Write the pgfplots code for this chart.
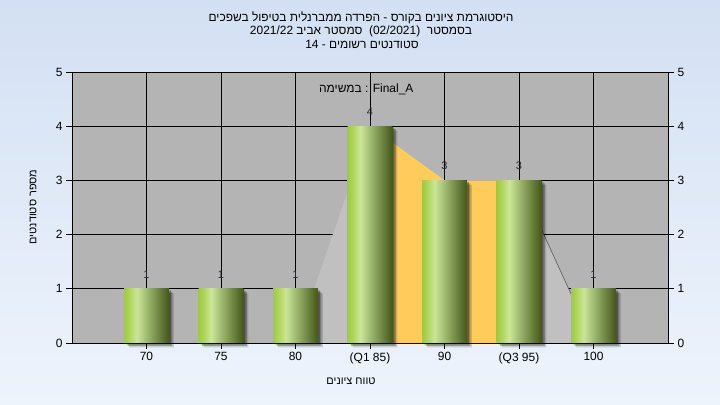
\documentclass[border=0pt]{standalone}
\usepackage{fontspec}
\setmainfont{Liberation Sans}
\newfontfamily\hebfont[Script=Hebrew]{Liberation Sans}
\TeXXeTstate=1
\usepackage{pgfplots}
\pgfplotsset{compat=1.18}
\definecolor{bgtop}{HTML}{D3E0F3}
\definecolor{bgbot}{HTML}{EEF4FC}
\definecolor{plotgray}{HTML}{B4B4B4}
\definecolor{areagray}{HTML}{C0C0C0}
\definecolor{areaorange}{HTML}{FFCC5C}
\definecolor{barL}{HTML}{9FCB3E}
\definecolor{barM}{HTML}{CBE698}
\definecolor{barD}{HTML}{43571A}
\pgfdeclarehorizontalshading{barshade}{100bp}{color(0bp)=(barL); color(25bp)=(barL); color(30bp)=(barL!70!barM); color(39bp)=(barM); color(55bp)=(barD!45!barM); color(75bp)=(barD); color(100bp)=(barD)}
\newcommand{\tf}{\fontsize{12}{14}\selectfont}
\pgfplotsset{
  shadowbar/.style={ybar, bar width=0.6, bar shift=0pt, fill=black, draw=none},
  greenbar/.style={ybar, bar width=0.6, bar shift=0pt, draw=none, shade, shading=barshade}}
\begin{document}
\begin{tikzpicture}
\shade[top color=bgtop,bottom color=bgbot] (0bp,0bp) rectangle (720bp,405bp);
\useasboundingbox (0bp,0bp) rectangle (720bp,405bp);
\node[font=\hebfont\tf, inner sep=0] at (361bp,387bp) {\beginR היסטוגרמת ציונים בקורס - הפרדה ממברנלית בטיפול בשפכים\endR};
\node[font=\hebfont\tf, inner sep=0] at (361bp,374bp) {\beginR בסמסטר \ \beginL(02/2021)\endL{} \ סמסטר אביב \beginL2021/22\endL\endR};
\node[font=\hebfont\tf, inner sep=0] at (362bp,361bp) {\beginR סטודנטים רשומים - \beginL14\endL\endR};
\node[font=\hebfont\fontsize{11}{13}\selectfont, inner sep=0] at (351bp,24bp) {\beginR טווח ציונים\endR};
\node[font=\hebfont\fontsize{11}{13}\selectfont, inner sep=0, rotate=90] at (33bp,198bp) {\beginR מספר סטודנטים\endR};
\begin{axis}[at={(72bp,62bp)}, anchor=south west, scale only axis,
  width=596bp, height=271bp,
  xmin=-1, xmax=7, ymin=0, ymax=5, clip=false,
  axis background/.style={fill=plotgray},
  xtick={0,...,6}, xticklabels={70,75,80,{(Q1 85)},90,{(Q3 95)},100},
  ytick={0,...,5},
  grid=major, grid style={black, line width=0.9bp},
  axis line style={black, line width=0.9bp},
  tick style={black, line width=0.9bp},
  tick align=outside, major tick length=6bp,
  ytick pos=left, xtick pos=bottom,
  ticklabel style={font=\tf},
  /pgf/number format/assume math mode=true,
  no markers]
\addplot[fill=areagray, draw=none] coordinates {(2,0)(3,4)(4,3)(5,3)(6,0)} \closedcycle;
\addplot[fill=areaorange, draw=none] coordinates {(3,4)(4,3)(5,3)} \closedcycle;
\addplot[draw=black!65, line width=0.6bp] coordinates {(5,3)(6,0)};
\addplot[shadowbar, opacity=0.15, xshift=5bp, yshift=-4.5bp] coordinates {(0,1)(1,1)(2,1)(3,4)(4,3)(5,3)(6,1)};
\addplot[shadowbar, opacity=0.25, xshift=3.5bp, yshift=-3bp] coordinates {(0,1)(1,1)(2,1)(3,4)(4,3)(5,3)(6,1)};
\addplot[shadowbar, opacity=0.3, xshift=2bp, yshift=-1.5bp] coordinates {(0,1)(1,1)(2,1)(3,4)(4,3)(5,3)(6,1)};
\addplot[greenbar] coordinates {(0,1)};
\addplot[greenbar] coordinates {(1,1)};
\addplot[greenbar] coordinates {(2,1)};
\addplot[greenbar] coordinates {(3,4)};
\addplot[greenbar] coordinates {(4,3)};
\addplot[greenbar] coordinates {(5,3)};
\addplot[greenbar] coordinates {(6,1)};
\addplot[draw=none, mark=none, nodes near coords, nodes near coords style={font=\fontsize{11}{13}\selectfont, text=black!85, anchor=south, yshift=7bp}] coordinates {(0,1)(1,1)(2,1)(3,4)(4,3)(5,3)(6,1)};
\node[font=\tf, inner sep=0] at (axis cs:2.95,4.68) {{\hebfont\beginR במשימה\endR} : Final\_A};
\end{axis}
\begin{axis}[at={(72bp,62bp)}, anchor=south west, scale only axis,
  width=596bp, height=271bp,
  xmin=-1, xmax=7, ymin=0, ymax=5,
  axis x line=none, axis y line*=right,
  ytick={0,...,5},
  axis line style={black, line width=0.9bp},
  tick style={black, line width=0.9bp},
  tick align=outside, major tick length=6bp,
  ticklabel style={font=\tf},
  /pgf/number format/assume math mode=true]
\addplot[draw=none] coordinates {(0,0)};
\end{axis}
\end{tikzpicture}
\end{document}
